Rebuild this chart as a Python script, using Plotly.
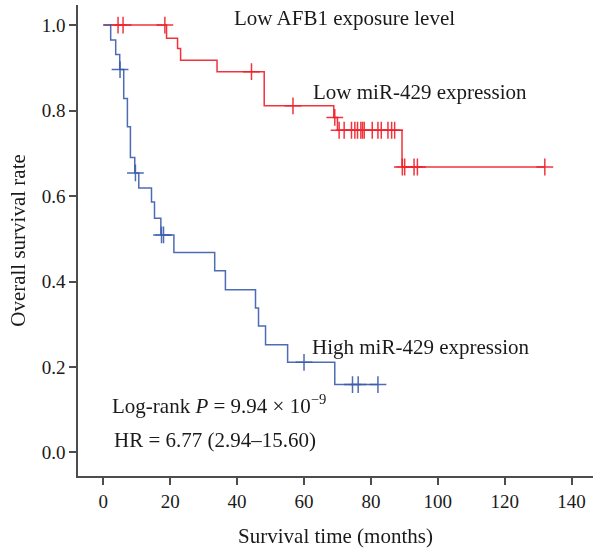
import plotly.graph_objects as go
import numpy as np

# Low miR-429 expression (red)
red_times = [0, 18.9, 22.2, 23.1, 34.0, 48.1, 68.9, 70.0, 89.3]
red_surv = [1.0, 0.969, 0.945, 0.918, 0.891, 0.811, 0.784, 0.754, 0.668]
red_end = 132.0
red_censor = [4.4, 5.9, 18.4, 44.3, 56.7, 69.2, 70.5, 72.0, 74.2, 75.2, 76.0, 77.0,
              77.5, 78.0, 80.4, 82.1, 83.1, 85.1, 86.2, 87.1, 89.4, 90.1, 92.9, 93.9, 132.0]

# High miR-429 expression (blue)
blue_times = [0, 2.2, 3.7, 4.9, 6.1, 7.2, 8.1, 9.4, 10.6, 14.4, 15.3, 17.2, 21.1,
              33.3, 36.5, 45.5, 46.4, 48.5, 55.1, 69.2]
blue_surv = [1.0, 0.965, 0.931, 0.896, 0.828, 0.762, 0.690, 0.654, 0.619, 0.586, 0.548,
             0.509, 0.468, 0.425, 0.381, 0.338, 0.296, 0.252, 0.211, 0.159]
blue_end = 82.1
blue_censor = [5.0, 9.6, 17.4, 18.0, 60.0, 74.5, 76.2, 82.1]

x_ticks = [0, 20, 40, 60, 80, 100, 120, 140]
y_ticks = [0.0, 0.2, 0.4, 0.6, 0.8, 1.0]

RED = "#f01e28"
BLUE = "#3a5cac"
FONT = "Liberation Serif"
TXT = "#1a1a1a"


def surv_at(times, surv, t):
    idx = np.searchsorted(np.array(times), t, side="right") - 1
    return surv[max(idx, 0)]


fig = go.Figure()
for times, surv, end, cens, col in [
    (red_times, red_surv, red_end, red_censor, RED),
    (blue_times, blue_surv, blue_end, blue_censor, BLUE),
]:
    xs = list(times) + [end]
    ys = list(surv) + [surv[-1]]
    fig.add_trace(go.Scatter(x=xs, y=ys, mode="lines", line=dict(shape="hv", color=col, width=1.5),
                             opacity=0.9, showlegend=False, hoverinfo="skip"))
    fig.add_trace(go.Scatter(x=cens, y=[surv_at(times, surv, c) for c in cens], mode="markers",
                             marker=dict(symbol="cross-thin", size=12, line=dict(color=col, width=1.5)),
                             opacity=0.9, showlegend=False, hoverinfo="skip"))

ann = [
    ("Low AFB1 exposure level", 38.4, 1.016),
    ("Low miR-429 expression", 62.0, 0.844),
    ("High miR-429 expression", 61.7, 0.247),
    ("Log-rank <i>P</i> = 9.94 × 10<sup>−9</sup>", 2.1, 0.112),
    ("HR = 6.77 (2.94–15.60)", 2.7, 0.029),
]
for text, x, y in ann:
    fig.add_annotation(x=x, y=y, xref="x", yref="y", text=text, showarrow=False,
                       xanchor="left", yanchor="middle",
                       font=dict(family=FONT, size=21, color=TXT))

axis_common = dict(showline=True, linecolor="#4d4d4d", linewidth=1.5, ticks="outside",
                   ticklen=7, tickwidth=1.5, tickcolor="#4d4d4d", showgrid=False, zeroline=False,
                   tickfont=dict(family=FONT, size=19, color=TXT))

fig.update_layout(
    width=594, height=552,
    margin=dict(l=78, r=1, t=5, b=76),
    plot_bgcolor="white", paper_bgcolor="white",
    xaxis=dict(range=[-7.57, 146.4], tickvals=x_ticks, ticktext=[str(v) for v in x_ticks],
               title=dict(text="Survival time (months)", font=dict(family=FONT, size=21, color=TXT),
                          standoff=18),
               **axis_common),
    yaxis=dict(range=[-0.055, 1.047], tickvals=y_ticks, ticktext=[f"{v:.1f}" for v in y_ticks],
               title=dict(text="Overall survival rate", font=dict(family=FONT, size=21, color=TXT),
                          standoff=10),
               **axis_common),
)

fig.write_html("out.html")
